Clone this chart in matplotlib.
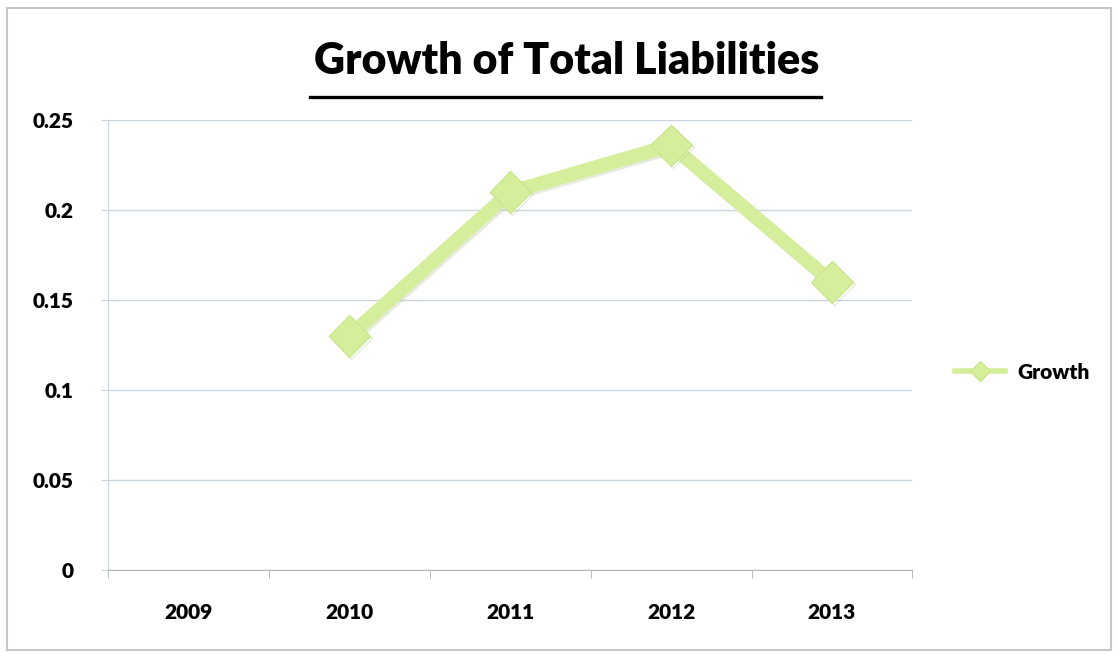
import matplotlib.pyplot as plt
import matplotlib.patheffects as pe
from matplotlib.patches import Rectangle
from matplotlib.lines import Line2D
import numpy as np

# === Data ===
years = ["2009", "2010", "2011", "2012", "2013"]
growth = [np.nan, 0.13, 0.21, 0.236, 0.16]
y_ticks = [0, 0.05, 0.1, 0.15, 0.2, 0.25]
y_tick_labels = ["0", "0.05", "0.1", "0.15", "0.2", "0.25"]

line_color = "#d5ee9c"
grid_color = "#c9d6e0"
font = "Lato"

# === Plotting ===
fig = plt.figure(figsize=(11.18, 6.54), dpi=100)
ax = fig.add_axes([0.0966, 0.1284, 0.7195, 0.688])

x = np.arange(len(years))
shadow = [pe.SimpleLineShadow(offset=(1.5, -1.5), shadow_color="#b8c8a0", alpha=0.35), pe.Normal()]
ax.plot(x, growth, color=line_color, linewidth=10, marker="D", markersize=21,
        markerfacecolor=line_color, markeredgecolor="#cbe68e", markeredgewidth=1,
        path_effects=shadow, solid_joinstyle="round", zorder=3)

ax.set_xlim(-0.5, len(years) - 0.5)
ax.set_ylim(0, 0.25)
ax.set_yticks(y_ticks)
ax.set_yticklabels(y_tick_labels, fontfamily=font, fontweight="heavy", fontsize=15)
ax.yaxis.grid(True, color=grid_color, linewidth=1)
ax.set_axisbelow(True)

# category labels centred, tick marks on the boundaries
ax.set_xticks(x)
ax.set_xticklabels(years, fontfamily=font, fontweight="heavy", fontsize=15)
ax.set_xticks(np.arange(-0.5, len(years)), minor=True)
ax.tick_params(axis="x", which="major", length=0, pad=24)
ax.tick_params(axis="x", which="minor", length=6, color="#b0b0b0", direction="out")
ax.tick_params(axis="y", length=5, color=grid_color, pad=20)

for side in ["top", "right"]:
    ax.spines[side].set_visible(False)
ax.spines["left"].set_color(grid_color)
ax.spines["bottom"].set_color("#b5b5b5")

fig.text(0.507, 0.906, "Growth of Total Liabilities", ha="center", va="center",
         fontfamily=font, fontweight="heavy", fontsize=31)
# underline the title
fig.add_artist(Line2D([0.2775, 0.734], [0.852, 0.852], color="black", linewidth=2.4))

handle = Line2D([], [], color=line_color, linewidth=4, marker="D", markersize=10,
                markerfacecolor=line_color, markeredgecolor="#cbe68e")
ax.legend([handle], ["Growth"], loc="center left", bbox_to_anchor=(1.03, 0.44), frameon=False,
          prop={"family": font, "weight": "heavy", "size": 15},
          handlelength=2.4, handletextpad=0.6)

# chart border
fig.add_artist(Rectangle((0.006, 0.006), 0.988, 0.982, transform=fig.transFigure,
                         fill=False, edgecolor="#c8c8c8", linewidth=1.5))

plt.savefig("out.png", dpi=100)
plt.close()
